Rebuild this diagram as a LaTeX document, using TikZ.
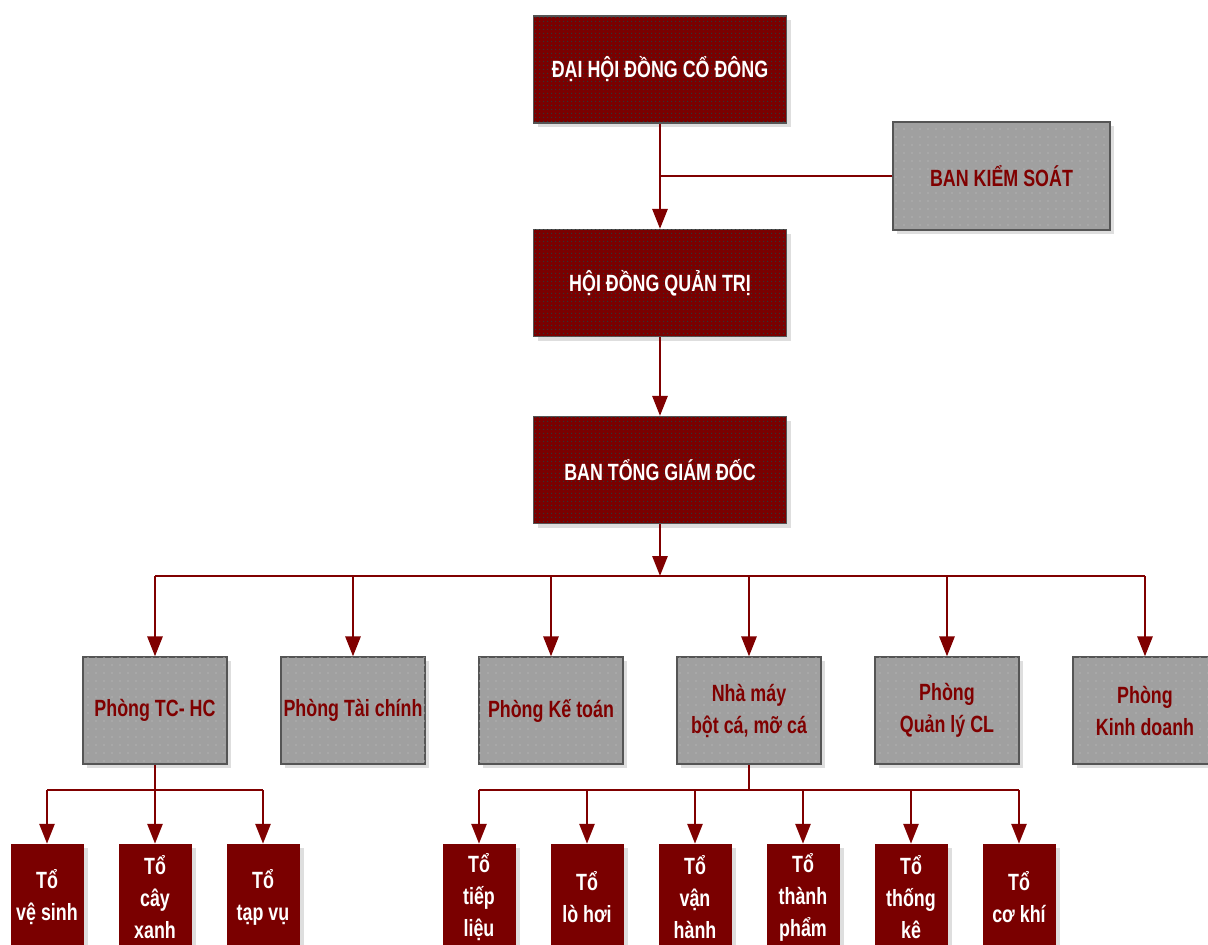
\documentclass[tikz,border=0pt]{standalone}
\usepackage{fontspec}
\setmainfont{Liberation Sans}[FakeStretch=0.76]
\usetikzlibrary{
  arrows.meta,
  positioning,
  shadows,
  patterns.meta
}
\definecolor{boxred}{RGB}{122,0,0}
\definecolor{linered}{RGB}{128,0,0}
\definecolor{boxgray}{RGB}{160,160,160}
\definecolor{edgegray}{RGB}{85,85,85}

\begin{document}
\begin{tikzpicture}[x=1pt, y=-1pt,
  every node/.style={font=\fontsize{23.5}{32}\selectfont\bfseries, align=center, inner sep=0pt},
  boxshadow/.style={drop shadow={shadow xshift=4pt, shadow yshift=-4pt, fill=black!13, opacity=1}},
  topbox/.style={boxshadow, fill=boxred, draw=edgegray, line width=1.2pt, text=white,
    minimum width=253pt, minimum height=107pt,
    postaction={pattern={Dots[distance=4pt, radius=0.9pt]}, pattern color=black!80}},
  graybox/.style={boxshadow, fill=boxgray, draw=edgegray, line width=1.2pt, text=linered,
    minimum width=144pt, minimum height=107pt,
    postaction={pattern={Dots[distance=8pt, radius=0.8pt]}, pattern color=black!30}},
  teambox/.style={boxshadow, fill=boxred, text=white, minimum width=73pt, minimum height=107pt},
  link/.style={draw=linered, line width=2.8pt},
  arrow/.style={link, -{Triangle[length=20pt, width=15pt]}}]
  \useasboundingbox (0,0) rectangle (1208,945);

  % top of the chart
  \node[topbox] (dhdcd) at (660,69.5) {ĐẠI HỘI ĐỒNG CỔ ĐÔNG};
  \node[topbox] (hdqt) at (660,283) {HỘI ĐỒNG QUẢN TRỊ};
  \node[topbox] (btgd) at (660,470) {BAN TỔNG GIÁM ĐỐC};
  \node[graybox, minimum width=217pt, minimum height=108pt] (bks) at (1001.5,176) {BAN KIỂM SOÁT};

  \draw[arrow] (dhdcd) -- (hdqt);
  \draw[link] (bks.west) -- (bks.west -| dhdcd);
  \draw[arrow] (hdqt) -- (btgd);

  % departments
  \coordinate (bus) at (660,576);
  \foreach \n/\x/\t in {p1/155/{Phòng TC- HC}, p2/353/{Phòng Tài chính}, p3/551/{Phòng Kế toán},
      p4/749/{Nhà máy\\bột cá, mỡ cá}, p5/947/{Phòng\\Quản lý CL}, p6/1145/{Phòng\\Kinh doanh}}
    \node[graybox] (\n) at (\x,710.5) {\t};

  \draw[arrow] (btgd) -- (bus);
  \draw[link] (p1 |- bus) -- (p6 |- bus);
  \foreach \n in {p1,p2,p3,p4,p5,p6}
    \draw[arrow] (\n |- bus) -- (\n);

  % teams under Phong TC-HC
  \coordinate (tbus) at (155,790);
  \foreach \n/\x/\t in {t1/47/{Tổ\\vệ sinh}, t2/155/{Tổ\\cây\\xanh}, t3/263/{Tổ\\tạp vụ}}
    \node[teambox] (\n) at (\x,897.5) {\t};

  \draw[link] (p1) -- (tbus);
  \draw[link] (t1 |- tbus) -- (t3 |- tbus);
  \foreach \n in {t1,t2,t3}
    \draw[arrow] (\n |- tbus) -- (\n);

  % teams under the factory
  \coordinate (ubus) at (749,790);
  \foreach \n/\x/\t in {u1/479/{Tổ\\tiếp\\liệu}, u2/587/{Tổ\\lò hơi}, u3/695/{Tổ\\vận\\hành},
      u4/803/{Tổ\\thành\\phẩm}, u5/911/{Tổ\\thống\\kê}, u6/1019/{Tổ\\cơ khí}}
    \node[teambox] (\n) at (\x,897.5) {\t};

  \draw[link] (p4) -- (ubus);
  \draw[link] (u1 |- ubus) -- (u6 |- ubus);
  \foreach \n in {u1,u2,u3,u4,u5,u6}
    \draw[arrow] (\n |- ubus) -- (\n);
\end{tikzpicture}
\end{document}
